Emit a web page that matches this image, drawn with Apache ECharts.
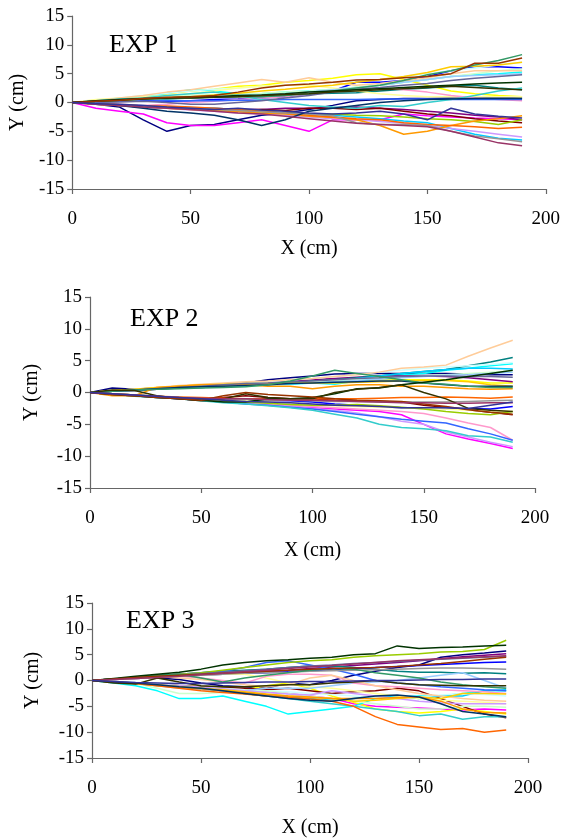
<!DOCTYPE html>
<html>
<head>
<meta charset="utf-8">
<script src="https://cdn.jsdelivr.net/npm/echarts@6/dist/echarts.min.js"></script>
<style>html,body{margin:0;padding:0;background:#fff}#c{width:563px;height:839px}</style>
</head>
<body>
<div id="c"></div>
<script>
// X positions (cm)
const xValues = [0,10,20,30,40,50,60,70,80,90,100,110,120,130,140,150,160,170,180,190];
const xTicks = [0,50,100,150,200];
const yTicks = [-15,-10,-5,0,5,10,15];
const panelTitles = ['EXP 1','EXP 2','EXP 3'];
const lineColors = ['#000080','#FF00FF','#FFFF00','#00FFFF','#800080','#800000','#008080','#0000FF','#00CCFF','#CCFFFF','#CCFFCC','#FFFF99','#99CCFF','#FF99CC','#CC99FF','#FFCC99','#3366FF','#33CCCC','#99CC00','#FFCC00','#FF9900','#FF6600','#666699','#969696','#003366','#339966','#003300','#333300','#993300','#993366','#333399'];

// EXP 1 trajectories (Y cm)
const e1_01 = [0,-0.3,-0.8,-3,-5,-4,-3.8,-3,-2.2,-1.8,-1.2,-0.5,0.3,0.5,0.7,0.7,0.8,0.8,0.8,0.8];
const e1_02 = [0,-1,-1.5,-2,-3.5,-4,-4,-3.5,-3,-4,-5,-3,-3,-3,-2,-2.3,-2.5,-2.7,-2.8,-3];
const e1_03 = [0,0.3,0.6,1,1.5,2,2.3,2.8,3,3.5,3.8,4.2,4.8,5,4,3,2,1.5,1.2,1];
const e1_04 = [0,0.3,0.6,1,1.6,2.2,2,1.5,1.5,1.8,2,2.2,2.6,3,3.5,4,4.5,4.8,5,5.3];
const e1_05 = [0,-0.2,-0.4,-0.6,-0.8,-1,-1,-1.2,-1.2,-1,-1,-0.9,-0.8,-1,-1.2,-1.5,-1.8,-2.2,-2.5,-3];
const e1_06 = [0,-0.2,-0.5,-0.8,-1,-1,-1.2,-1.3,-1.2,-1.4,-1,-1,-1.2,-1,-1.5,-2,-2.3,-2.8,-3.2,-3.5];
const e1_07 = [0,0.2,0.4,0.5,0.6,0.8,1,1.1,1.2,1.3,1.5,1.6,1.7,2,2.3,2.5,2.8,3,2.5,2.2];
const e1_08 = [0,0.1,0.2,0.3,0.2,0.3,0.5,0.6,0.8,1,1.5,2,3.5,3.5,3.8,4.5,5.5,6.2,6.2,6];
const e1_09 = [0,-0.2,-0.4,-0.5,-0.8,-1,-1,-1.2,-1.5,-1.8,-2,-2.2,-2.5,-2.8,-3.2,-3.5,-4.5,-5.5,-6.2,-6.5];
const e1_10 = [0,0.4,0.8,1.2,1.6,2,2.3,2.5,2.8,3,3.2,3.5,3.8,4,4.5,5,5.5,6,6.5,7];
const e1_11 = [0,0.3,0.5,0.8,1,1.2,1.4,1.5,1.6,1.8,2,2.3,2.7,3,3.5,4,4.5,5,5.5,5.8];
const e1_12 = [0,0.5,0.8,1,1.2,1.5,2,2.5,2.8,3,3,2.5,2,1.5,1.2,1,1,1,1,1];
const e1_13 = [0,0.2,0.3,0.5,0.7,0.8,1,1.2,1.3,1.5,1.8,2.2,2.5,3,3.5,4,4.5,4.7,4.8,5];
const e1_14 = [0,-0.2,-0.3,-0.5,-0.3,0,0.2,0.5,0.8,1,1.5,2,2.3,2.5,2.2,1.8,1.2,0.8,0.5,0.3];
const e1_15 = [0,-0.3,-0.5,-0.8,-1,-1.3,-1.5,-1.8,-2,-2.2,-2.5,-2.8,-3,-3.3,-3.6,-4,-4.5,-5,-5.5,-6];
const e1_16 = [0,0.3,0.8,1.2,1.8,2.2,2.8,3.4,4,3.5,4.3,3.5,3,3.3,3.8,4.3,5,5.5,5.5,5.5];
const e1_17 = [0,0.1,0.2,0.2,0.3,0.3,0.3,0.4,0.4,0.5,0.5,0.5,0.5,0.6,0.6,0.6,0.5,0.5,0.5,0.5];
const e1_18 = [0,0.3,0.6,0.8,1.2,1.5,1.8,1.2,0.5,0,-0.5,-0.8,-1,-0.5,-0.7,0,0.5,1.2,2,2.5];
const e1_19 = [0,-0.2,-0.4,-0.6,-0.8,-1,-1.2,-1.4,-1.6,-1.8,-2,-2,-2.2,-2.3,-2.5,-2.8,-3,-3.3,-3.8,-3];
const e1_20 = [0,0.2,0.4,0.6,0.8,1,1.3,1.6,2,2.3,2.7,3,3.5,4,4.5,5.2,6.2,6.3,6.5,7];
const e1_21 = [0,-0.3,-0.5,-0.7,-1,-1.2,-1.4,-1.6,-1.8,-2,-2.4,-2.6,-3,-4,-5.5,-5,-4,-3.2,-2.8,-2.3];
const e1_22 = [0,-0.2,-0.4,-0.6,-0.6,-0.8,-1,-1.2,-1.5,-1.8,-2.2,-2.5,-2.8,-3,-3.5,-3.8,-4,-4.2,-4.5,-4.3];
const e1_23 = [0,0.1,0.1,0.2,0,-0.3,-0.3,0,0.3,0.8,1.2,1.8,2.3,2.6,3,3.3,3.8,4.2,4.5,4.8];
const e1_24 = [0,-0.2,-0.5,-0.8,-1,-1,-1.2,-1.4,-1.6,-1.8,-2,-2.3,-3.5,-3.8,-3.8,-4,-5,-5.8,-6.3,-6.8];
const e1_25 = [0,-0.2,-0.5,-1,-1.5,-1.8,-2.2,-3,-4,-3,-1.5,-1,-0.5,0,0.3,0.5,0.6,0.7,0.7,0.7];
const e1_26 = [0,0.2,0.4,0.6,0.7,0.8,0.9,1,1,1.2,1.5,2,2.5,3,3.8,4.8,5.5,6.5,7.3,8.3];
const e1_27 = [0,0.3,0.5,0.7,0.8,1,1,1.2,1.3,1.5,1.8,2,2.2,2.4,2.6,2.8,3,3.2,3.4,3.5];
const e1_28 = [0,0.2,0.4,0.6,0.8,0.8,0.9,1,1.2,1.4,1.5,1.8,2,2.2,2.4,2.6,2.8,2.6,2.4,2.2];
const e1_29 = [0,0.2,0.4,0.7,0.9,1,1.2,1.8,2.5,3,3.2,3.5,3.9,4,4.3,4.5,5,6.8,6.8,7.7];
const e1_30 = [0,-0.3,-0.5,-0.8,-1,-1.2,-1.5,-1.8,-2,-2.4,-2.8,-3.2,-3.6,-3.8,-4,-4.2,-5,-6,-7,-7.5];
const e1_31 = [0,-0.2,-0.3,-0.5,-0.8,-1,-1.2,-1,-1.3,-1.5,-1.8,-2,-1.8,-1.5,-2,-3,-1,-2,-2.4,-2.7];

// EXP 2 trajectories (Y cm)
const e2_01 = [0,0.7,0.5,0.7,0.9,1,1.2,1.5,2,2.3,2.6,2.9,3,3,3,3,3,2.9,2.8,2.8];
const e2_02 = [0,-0.3,-0.5,-0.7,-1,-1.2,-1.5,-1.5,-1.8,-2.2,-2.4,-2.6,-2.8,-3,-3.5,-5,-6.5,-7.3,-8,-8.8];
const e2_03 = [0,0.2,0.4,0.6,0.8,1,1.1,1.2,1.3,1.5,1.6,1.8,1.8,2,2,2,2,1.8,1.5,1.5];
const e2_04 = [0,0.2,0.4,0.6,0.8,0.8,1,1,1.2,1.3,1.5,1.3,1.8,2.2,2.8,3,3.5,3.8,4.2,4.5];
const e2_05 = [0,0.2,0.3,0.5,0.8,1,1.2,1.3,1.5,1.7,2,2.2,2.4,2.6,2.6,2.6,2.5,2.3,2,1.7];
const e2_06 = [0,-0.2,-0.4,-0.7,-1,-1,-0.8,-0.5,-0.8,-1,-1,-1.2,-1.3,-1.4,-1.5,-2,-2.3,-2.7,-3.1,-3.5];
const e2_07 = [0,0.2,0.3,0.5,0.7,0.8,1,1.2,1.3,1.5,1.8,2,2.3,2.6,3,3.3,3.6,4.2,4.8,5.5];
const e2_08 = [0,-0.3,-0.5,-0.7,-0.9,-1,-1,-1.1,-1.2,-1.3,-1.5,-1.8,-2,-2.2,-2.4,-2.4,-2.5,-2.5,-2.6,-2.2];
const e2_09 = [0,0.2,0.4,0.6,0.8,1,1.1,1.2,1.3,1.4,1.5,1.8,2.2,2.6,3,3.3,3.6,3.8,3.8,3.7];
const e2_10 = [0,0.2,0.4,0.7,1,1.2,1.3,1.5,1.7,2,2.2,2.5,2.8,3.2,3.5,3.8,4,4.2,4.4,4.7];
const e2_11 = [0,0.3,0.5,0.7,0.9,1,1.2,1.3,1.4,1.5,1.7,1.9,2.1,2.3,2.4,2.6,2.8,3,3.2,3.4];
const e2_12 = [0,-0.2,-0.4,-0.6,-0.8,-1,-1.2,-1.3,-1.5,-1.7,-2,-2.1,-2.2,-2.3,-2.4,-2.5,-2.6,-2.8,-2.9,-3];
const e2_13 = [0,0.2,0.4,0.6,0.7,0.8,1,1.1,1.2,1.4,1.5,1.7,1.9,2.1,2.3,2.5,2.7,2.8,3,3.2];
const e2_14 = [0,-0.2,-0.4,-0.7,-1,-1.2,-1.4,-1.6,-1.8,-2,-2.2,-2.4,-2.6,-2.8,-3,-3.3,-4,-4.8,-5.5,-7.5];
const e2_15 = [0,-0.3,-0.5,-0.7,-1,-1.2,-1.4,-1.7,-2,-2.2,-2.5,-2.8,-3.2,-3.8,-4.5,-5,-6.2,-7,-7.8,-8.5];
const e2_16 = [0,0.3,0.5,0.8,1.1,1.3,1.5,1.7,1.8,2,2.2,2.5,2.8,3.2,3.8,4,4.3,5.7,7,8.2];
const e2_17 = [0,-0.3,-0.5,-0.8,-1,-1.2,-1.5,-1.8,-2,-2.3,-2.6,-3,-3.4,-3.8,-4.2,-4.5,-4.8,-5.7,-6.5,-7.5];
const e2_18 = [0,-0.3,-0.6,-0.8,-1,-1.3,-1.6,-1.8,-2.1,-2.4,-2.8,-3.4,-4,-5,-5.5,-5.7,-6,-6.8,-7,-7.8];
const e2_19 = [0,-0.2,-0.4,-0.6,-0.9,-1.1,-1.3,-1.5,-1.7,-1.9,-2,-2,-1.9,-2.1,-2.3,-2.6,-3,-3.3,-3.5,-3];
const e2_20 = [0,0.3,0.5,0.8,1,1.2,1.3,1.4,1.4,1.5,1.5,1.5,1.6,1.7,1.8,1.9,1.9,1.7,1.2,1];
const e2_21 = [0,-0.5,-0.5,0.8,1,1.2,1.2,1.2,1,1,0.6,1,1.2,1.2,1,1,0.8,0.6,0.5,0.6];
const e2_22 = [0,-0.3,-0.5,-0.6,-0.7,-0.8,-0.9,-1,-1,-1,-1,-1,-1,-0.9,-0.8,-0.8,-0.7,-0.8,-0.9,-0.7];
const e2_23 = [0,0.2,0.4,0.6,0.8,1,1.2,1.4,1.5,1.7,1.8,2,2.2,2.3,2.5,2.6,2.6,2.5,2.5,2.4];
const e2_24 = [0,-0.2,-0.4,-0.6,-0.8,-1,-1,-1.1,-1.2,-1.2,-1.3,-1.4,-1.4,-1.5,-1.5,-1.5,-1.5,-1.4,-1.3,-1.2];
const e2_25 = [0,0.2,0.4,0.6,0.8,0.9,1,1.1,1.2,1.4,1.5,1.6,1.7,1.8,1.8,1.5,1.2,1,1,1];
const e2_26 = [0,0.2,0.4,0.5,0.6,0.7,0.8,0.9,1.2,1.8,2.6,3.5,3,2.5,2,1.5,1.3,1,0.8,0.8];
const e2_27 = [0,-0.3,-0.5,-0.8,-1,-1.2,-1.5,-1.5,-1,-1,-0.8,-0.2,0.6,0.7,1.2,1.6,2,2.5,3,3.5];
const e2_28 = [0,0.4,0.3,-0.5,-1,-1.3,-1,-0.2,-0.8,-1,-1,0,0.5,0.8,1.2,0,-1,-2.5,-2.8,-3];
const e2_29 = [0,-0.3,-0.5,-0.8,-1,-1.2,-0.5,0,-0.3,-0.5,-0.7,-1,-1.2,-1.3,-1.4,-1.8,-2.2,-2.7,-3.1,-3.4];
const e2_30 = [0,-0.2,-0.4,-0.6,-0.8,-0.9,-1,-1,-1.1,-1.2,-1.2,-1.3,-1.4,-1.5,-1.6,-1.6,-1.7,-1.7,-1.6,-1.6];
const e2_31 = [0,-0.2,-0.4,-0.6,-0.8,-1,-1.2,-1.4,-1.5,-1.6,-1.8,-2,-2.1,-2.2,-2.4,-2.4,-2.4,-2.5,-2,-1.5];

// EXP 3 trajectories (Y cm)
const e3_01 = [0,0.3,0.5,0.5,0.2,-0.5,-1,-1.2,-1.5,-0.5,-0.8,0,1,1.8,2.5,3,4.5,5,5.3,5.7];
const e3_02 = [0,-0.3,-0.5,-0.8,-1,-1.3,-1.5,-1.8,-2.2,-2.5,-3,-3.5,-4.5,-5,-5.2,-5.3,-5.5,-5.7,-5.5,-5.7];
const e3_03 = [0,-0.3,-0.5,-0.8,-1,-1.2,-1.5,-1.8,-1,-0.5,-1.5,-3,-4.2,-5.5,-6,-6.3,-6,-5.5,-6,-6.5];
const e3_04 = [0,-0.5,-1,-2,-3.5,-3.5,-3,-4,-5,-6.5,-6,-5.5,-5,-3.5,-3.2,-3,-3,-2.5,-2,-2];
const e3_05 = [0,0.3,0.5,0.8,1,1.2,1.4,1.6,1.8,2,2.3,2.6,2.9,3.2,3.5,3.8,4.2,4.6,4.9,5.2];
const e3_06 = [0,-0.3,-0.5,-0.7,-1,-1.2,-1.3,-1.5,-1.8,-1.5,-2,-2.5,-2.2,-2,-1.5,-2,-3.5,-5,-6.5,-7.2];
const e3_07 = [0,0.3,0.6,0.9,1.2,1.5,1.8,2,2.2,2.5,2.8,2.8,2.5,2.2,1.8,1.6,1.6,1.4,1.5,1.3];
const e3_08 = [0,0.2,0.4,0.6,0.8,1,1.2,1.4,1.5,1.7,1.9,2.1,2.3,2.5,2.7,2.9,3.1,3.3,3.5,3.6];
const e3_09 = [0,-0.2,-0.5,-0.8,-1.2,-1.5,-2,-2.5,-3,-3.2,-3.5,-3.8,-3.5,-3.2,-3,-3.5,-3,-3,-2,-1.8];
const e3_10 = [0,-0.2,-0.4,-0.6,-1,-1.3,-1.5,-1.8,-2,-2.2,-2.5,-2.7,-3,-3.3,-3.5,-3.2,-2.8,-2.5,-2.7,-3];
const e3_11 = [0,-0.3,-0.6,-1.5,-2.5,-2.5,-2.3,-2.2,-2,-2.5,-3,-3.5,-4,-4.5,-5,-5.5,-5.5,-5,-5,-5.2];
const e3_12 = [0,0.2,0.4,0.6,0.8,1,1.2,1.2,0.5,-0.5,-1.2,-1.5,-2,-2.5,-3,-3.5,-3.8,-4,-4.2,-4.5];
const e3_13 = [0,-0.3,-0.6,-1,-1.5,-1.8,-2,-2,-1.5,-1.5,-1.5,-1,-0.5,-0.3,0,0.5,1,1.5,0,-1.5];
const e3_14 = [0,0.2,0.4,0.6,0.8,0.5,0,-0.5,0.8,1.2,1.2,1,-0.5,-1,-1.2,-1.5,-1.8,-2,-2.2,-2.5];
const e3_15 = [0,-0.3,-0.5,-0.8,-1,-1.3,-1.6,-2,-2.3,-2.6,-2.8,-2,-2.5,-3,-3.5,-4,-4.3,-4.5,-4.5,-4.5];
const e3_16 = [0,0.3,0.6,0.8,0.5,0.2,-0.3,-0.8,-1.2,-0.8,0.5,1,0,-1,-1.8,-2.5,-3,-3.5,-3.8,-4];
const e3_17 = [0,0.3,0.6,0.9,1.2,1.5,1.8,2.5,3.5,3.8,3,2.2,1.2,0,-0.5,-0.8,-1.2,-1.5,-1.8,-2];
const e3_18 = [0,-0.3,-0.6,-0.9,-1.2,-1.5,-2,-2.5,-3,-3.5,-4,-4.5,-5,-5.5,-6,-6.8,-6.5,-7.5,-7,-7];
const e3_19 = [0,0.3,0.6,0.9,1.2,1.5,2,2.5,3,3.5,3.8,4,4.5,4.8,5,5.2,5.5,5.6,6,7.8];
const e3_20 = [0,-0.3,-0.5,-0.8,-1.2,-1.5,-1.8,-2.2,-2.6,-3,-3.3,-3.5,-4,-3.8,-3.5,-3.2,-3.5,-2.5,-2.5,-2.6];
const e3_21 = [0,-0.3,-0.6,-1,-1.3,-1.6,-2,-2.3,-2.7,-3,-3.2,-3.5,-3.5,-3.5,-3.3,-3.2,-4,-5.5,-6.2,-6.3];
const e3_22 = [0,-0.3,-0.6,-1,-1.5,-2,-2.3,-2.6,-3,-3.3,-3.6,-4,-5,-7,-8.5,-9,-9.5,-9.3,-10,-9.6];
const e3_23 = [0,0.3,0.6,0.9,1.1,1.3,1.6,1.9,2.2,2.5,2.8,3,3.3,3.5,3.7,3.9,4.1,4.3,4.5,4.7];
const e3_24 = [0,0.2,0.4,0.6,0.8,1,1.2,1.4,1.5,1.6,1.8,1.9,2,2.1,2.2,2.3,2.4,2.4,2.3,2.2];
const e3_25 = [0,-0.3,-0.5,-0.8,-1.2,-1.5,-2,-2.5,-3,-3.5,-3.8,-4,-3.5,-3,-2.8,-3.2,-4.5,-6,-6.5,-7];
const e3_26 = [0,0.3,0.6,1,1.2,0.5,-0.3,0.5,1,1.5,2,2.3,2.2,1.5,1,0.5,-0.3,-0.8,-1.2,-1.5];
const e3_27 = [0,0.4,0.8,1.2,1.6,2.2,3,3.5,3.8,4,4.3,4.5,5,5.2,6.7,6.2,6.4,6.5,6.7,6.8];
const e3_28 = [0,-0.5,-0.7,0.5,-0.3,-1,-1.2,-1.2,-1,-0.8,-0.8,-0.5,-0.3,0,-0.5,-0.8,-0.9,-1,-1,-1];
const e3_29 = [0,0.3,0.6,0.8,1,1.2,1.4,1.6,1.8,2,2.2,2.3,2.4,2.5,2.7,3,3.3,3.7,4.1,4.5];
const e3_30 = [0,0.2,0.4,0.6,0.8,1.1,1.4,1.7,2,2.3,2.6,2.9,3.2,3.5,3.8,4,4.2,4.4,4.6,4.8];
const e3_31 = [0,-0.2,-0.4,-0.5,-0.6,-0.6,-0.5,-0.4,-0.3,-0.3,-0.2,-0.2,-0.1,0,0,0.1,0.2,0.2,0.3,0.3];

const exp1 = [e1_01,e1_02,e1_03,e1_04,e1_05,e1_06,e1_07,e1_08,e1_09,e1_10,e1_11,e1_12,e1_13,e1_14,e1_15,e1_16,e1_17,e1_18,e1_19,e1_20,e1_21,e1_22,e1_23,e1_24,e1_25,e1_26,e1_27,e1_28,e1_29,e1_30,e1_31];
const exp2 = [e2_01,e2_02,e2_03,e2_04,e2_05,e2_06,e2_07,e2_08,e2_09,e2_10,e2_11,e2_12,e2_13,e2_14,e2_15,e2_16,e2_17,e2_18,e2_19,e2_20,e2_21,e2_22,e2_23,e2_24,e2_25,e2_26,e2_27,e2_28,e2_29,e2_30,e2_31];
const exp3 = [e3_01,e3_02,e3_03,e3_04,e3_05,e3_06,e3_07,e3_08,e3_09,e3_10,e3_11,e3_12,e3_13,e3_14,e3_15,e3_16,e3_17,e3_18,e3_19,e3_20,e3_21,e3_22,e3_23,e3_24,e3_25,e3_26,e3_27,e3_28,e3_29,e3_30,e3_31];

const FONT = '"Liberation Serif", "Times New Roman", serif';
const grids = [
  {left: 71, top: 16, width: 475, height: 173},
  {left: 90, top: 297, width: 445, height: 191},
  {left: 92, top: 603, width: 436, height: 155}
];
const xNameGaps = [50, 53, 60];
const yNameGaps = [43, 48, 49];
const titlePos = [[109, 47], [130, 321], [126, 623]];

const axisLineStyle = {color: '#666666', width: 1.2};
const xAxes = [], yAxes = [], series = [], graphics = [];
[exp1, exp2, exp3].forEach((exp, gi) => {
  xAxes.push({
    type: 'value', gridIndex: gi, min: xTicks[0], max: xTicks[xTicks.length-1], interval: 50,
    axisLine: {show: true, onZero: false, lineStyle: axisLineStyle},
    axisTick: {show: true, inside: false, length: 5, lineStyle: axisLineStyle},
    splitLine: {show: false},
    axisLabel: {color: '#000', fontFamily: FONT, fontSize: 19, margin: 21},
    name: 'X (cm)', nameLocation: 'middle', nameGap: xNameGaps[gi],
    nameTextStyle: {color: '#000', fontFamily: FONT, fontSize: 20}
  });
  yAxes.push({
    type: 'value', gridIndex: gi, min: yTicks[0], max: yTicks[yTicks.length-1], interval: 5,
    axisLine: {show: true, onZero: false, lineStyle: axisLineStyle},
    axisTick: {show: true, inside: false, length: 5, lineStyle: axisLineStyle},
    splitLine: {show: false},
    axisLabel: {color: '#000', fontFamily: FONT, fontSize: 19, margin: 8},
    name: 'Y (cm)', nameLocation: 'middle', nameGap: yNameGaps[gi],
    nameTextStyle: {color: '#000', fontFamily: FONT, fontSize: 20}
  });
  exp.forEach((ys, si) => {
    series.push({
      type: 'line', xAxisIndex: gi, yAxisIndex: gi,
      data: xValues.map((x, k) => [x, ys[k]]),
      showSymbol: false, symbol: 'none', silent: true,
      lineStyle: {color: lineColors[si % lineColors.length], width: 1.5},
      z: 2
    });
  });
  graphics.push({
    type: 'text', left: titlePos[gi][0], top: titlePos[gi][1] - 15,
    style: {text: panelTitles[gi], font: '26px ' + FONT, fill: '#000'}
  });
});

const chart = echarts.init(document.getElementById('c'), null, {renderer: 'canvas'});
chart.setOption({
  animation: false,
  backgroundColor: '#fff',
  grid: grids,
  xAxis: xAxes,
  yAxis: yAxes,
  series: series,
  graphic: graphics
});
</script>
</body>
</html>
